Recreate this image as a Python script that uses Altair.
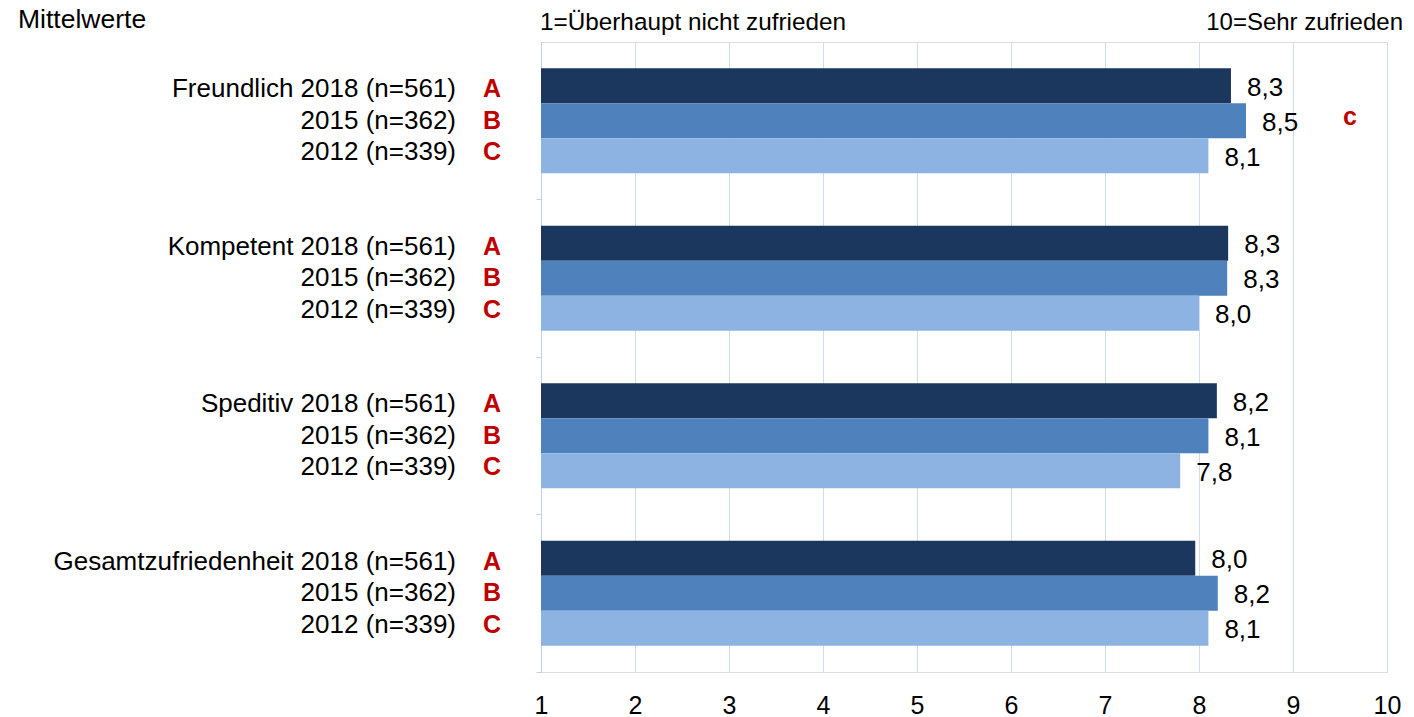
import altair as alt
import pandas as pd

categories = ["Freundlich", "Kompetent", "Speditiv", "Gesamtzufriedenheit"]
years = ["2018 (n=561)", "2015 (n=362)", "2012 (n=339)"]
year_letters = ["A", "B", "C"]
values_2018 = [8.34, 8.31, 8.19, 7.96]
values_2015 = [8.50, 8.30, 8.10, 8.20]
values_2012 = [8.10, 8.00, 7.80, 8.10]
sig_2015 = ["c", "", "", ""]
x_ticks = list(range(1, 11))
header_left = "Mittelwerte"
scale_low = "1=Überhaupt nicht zufrieden"
scale_high = "10=Sehr zufrieden"
bar_colors = ["#1B375E", "#4F81BD", "#8DB3E2"]
red = "#C00000"
grid_color = "#CFDCEC"
FONT = "Liberation Sans"

rows = []
for i, cat in enumerate(categories):
    for j, (yr, vals) in enumerate(zip(years, [values_2018, values_2015, values_2012])):
        v = vals[i]
        rows.append({
            "cat": cat,
            "year": yr,
            "value": v,
            "rowlabel": f"{cat} {yr}" if j == 0 else yr,
            "letter": year_letters[j],
            "vlabel": f"{v:.1f}".replace(".", ","),
            "sig": sig_2015[i] if j == 1 else "",
        })
df = pd.DataFrame(rows)

y_enc = alt.Y(
    "cat:N", sort=categories,
    scale=alt.Scale(paddingInner=0, paddingOuter=0),
    axis=alt.Axis(labels=False, title=None, grid=False, bandPosition=1,
                  domainColor="#BFD0E8", tickColor="#BFD0E8", tickSize=5),
)
yoff_bar = alt.YOffset("year:N", sort=years,
                       scale=alt.Scale(type="band", paddingInner=0, paddingOuter=0.75))
yoff_lab = alt.YOffset("year:N", sort=years,
                       scale=alt.Scale(type="band", paddingInner=0, paddingOuter=0.99))
x_enc = alt.X(
    "value:Q",
    scale=alt.Scale(domain=[1, 10], nice=False, zero=False),
    axis=alt.Axis(values=x_ticks, format="d", title=None, grid=True, gridColor=grid_color,
                  domain=False, ticks=False, labelFontSize=25, labelPadding=21,
                  labelFlush=False, labelColor="black", labelFont=FONT),
)

bars = alt.Chart(df).mark_bar().encode(
    x=x_enc,
    x2=alt.datum(1),
    y=y_enc,
    yOffset=yoff_bar,
    color=alt.Color("year:N", sort=years, scale=alt.Scale(domain=years, range=bar_colors), legend=None),
)

vlabels = alt.Chart(df).mark_text(align="left", baseline="middle", dx=16, dy=2,
                                  fontSize=26, font=FONT, color="black").encode(
    x=alt.X("value:Q"), y=y_enc, yOffset=yoff_bar, text="vlabel:N"
)

sig = alt.Chart(df).transform_filter("datum.sig != ''").mark_text(
    align="center", baseline="middle", dy=-4, fontSize=25, font=FONT,
    fontWeight="bold", color=red).encode(
    x=alt.value(809), y=y_enc, yOffset=yoff_bar, text="sig:N"
)

rowlabels = alt.Chart(df).mark_text(align="right", baseline="middle", fontSize=26,
                                    font=FONT, color="black").encode(
    x=alt.value(-85), y=y_enc, yOffset=yoff_lab, text="rowlabel:N"
)

letters = alt.Chart(df).mark_text(align="center", baseline="middle", fontSize=25,
                                  font=FONT, fontWeight="bold", color=red).encode(
    x=alt.value(-49), y=y_enc, yOffset=yoff_lab, text="letter:N"
)

h1 = alt.Chart(pd.DataFrame({"t": [header_left]})).mark_text(
    align="left", baseline="alphabetic", fontSize=26.5, font=FONT, color="black").encode(
    x=alt.value(-523), y=alt.value(-14), text="t:N")
h2 = alt.Chart(pd.DataFrame({"t": [scale_low]})).mark_text(
    align="left", baseline="alphabetic", fontSize=24.3, font=FONT, color="black").encode(
    x=alt.value(-1), y=alt.value(-12), text="t:N")
h3 = alt.Chart(pd.DataFrame({"t": [scale_high]})).mark_text(
    align="right", baseline="alphabetic", fontSize=24, font=FONT, color="black").encode(
    x=alt.value(862), y=alt.value(-12), text="t:N")

chart = alt.layer(bars, vlabels, sig, rowlabels, letters, h1, h2, h3).resolve_scale(
    yOffset="independent"
).properties(
    width=846, height=630,
    autosize=alt.AutoSizeParams(type="none"),
    padding={"left": 533, "top": 34, "right": 18, "bottom": 45},
).configure_view(stroke=None).configure(font=FONT)

chart.save("out.html", embed_options={"renderer": "svg", "actions": False})
